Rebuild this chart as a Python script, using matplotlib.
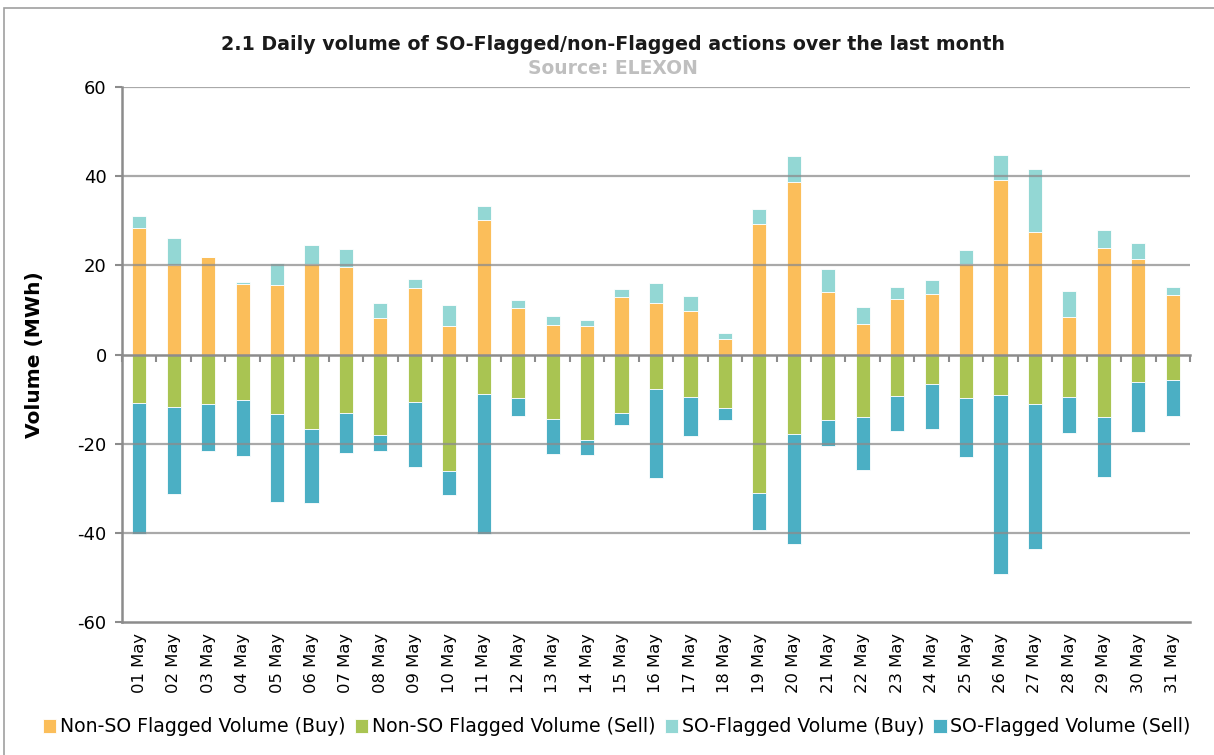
import matplotlib
matplotlib.use("Agg")
import matplotlib.pyplot as plt
from matplotlib.patches import Rectangle
import numpy as np

days = [f"{d:02d} May" for d in range(1, 32)]

# totals
buy_top = [31.0, 26.1, 21.9, 16.3, 20.6, 24.6, 23.7, 11.6, 17.0, 11.2, 33.3, 12.3, 8.7, 7.8, 14.6, 16.1,
           13.2, 4.9, 32.7, 44.6, 19.1, 10.7, 15.2, 16.8, 23.5, 44.7, 41.5, 14.3, 28.0, 25.0, 15.2]
non_so_buy = [28.4, 20.0, 21.9, 15.8, 15.6, 20.3, 19.7, 8.1, 15.0, 6.4, 30.2, 10.4, 6.7, 6.4, 12.8, 11.5,
              9.7, 3.4, 29.3, 38.8, 14.1, 6.8, 12.4, 13.5, 20.2, 39.1, 27.4, 8.5, 23.8, 21.5, 13.4]
non_so_sell = [-10.9, -11.8, -11.0, -10.2, -13.3, -16.7, -13.1, -18.0, -10.7, -26.1, -8.9, -9.8, -14.4, -19.2,
               -13.1, -7.7, -9.5, -12.0, -31.0, -17.8, -14.8, -14.0, -9.4, -6.7, -9.7, -9.0, -11.0, -9.6,
               -14.0, -6.1, -5.7]
sell_bottom = [-40.2, -31.2, -21.6, -22.8, -33.0, -33.2, -22.2, -21.6, -25.2, -31.6, -40.3, -13.7, -22.3, -22.6,
               -15.9, -27.6, -18.3, -14.8, -39.4, -42.4, -20.6, -25.8, -17.2, -16.6, -23.0, -49.3, -43.6,
               -17.6, -27.4, -17.4, -13.9]

so_buy = np.array(buy_top) - np.array(non_so_buy)
so_sell = np.array(sell_bottom) - np.array(non_so_sell)

c_nbuy = "#FBBE5A"
c_nsell = "#A9C452"
c_sbuy = "#93D7D4"
c_ssell = "#4BAFC4"
gray = "#8C8C8C"

plt.rcParams['font.family'] = ['DejaVu Sans']
plt.rcParams['axes.unicode_minus'] = False
fig = plt.figure(figsize=(12.14, 7.55), dpi=100)
ax = fig.add_axes([122/1214, 1-622/755, (1190-122)/1214, (622-87)/755])

x = np.arange(len(days))
w = 0.41
ek = dict(edgecolor="white", linewidth=0.6, zorder=2)
ax.bar(x, non_so_buy, w, color=c_nbuy, label="Non-SO Flagged Volume (Buy)", **ek)
ax.bar(x, non_so_sell, w, color=c_nsell, label="Non-SO Flagged Volume (Sell)", **ek)
ax.bar(x, so_buy, w, bottom=non_so_buy, color=c_sbuy, label="SO-Flagged Volume (Buy)", **ek)
ax.bar(x, so_sell, w, bottom=non_so_sell, color=c_ssell, label="SO-Flagged Volume (Sell)", **ek)

ax.set_xlim(-0.5, len(days) - 0.5)
ax.set_ylim(-60, 60)
ax.set_yticks([-60, -40, -20, 0, 20, 40, 60])
for yv in [-40, -20, 20, 40, 60]:
    ax.axhline(yv, color=gray, lw=1.6, alpha=0.75, zorder=3)

for s in ["top", "right"]:
    ax.spines[s].set_visible(False)
ax.spines["left"].set_color(gray)
ax.spines["left"].set_linewidth(1.8)
ax.spines["bottom"].set_position(("data", 0))
ax.spines["bottom"].set_color(gray)
ax.spines["bottom"].set_linewidth(1.8)
ax.spines["bottom"].set_zorder(4)
ax.set_xticks(np.arange(len(days) + 1) - 0.5)
ax.tick_params(axis="x", length=5, width=1.5, color=gray, labelbottom=False, direction="out")
ax.tick_params(axis="y", length=5, width=1.5, color=gray, labelsize=13, pad=6)

sec = ax.secondary_xaxis(0)
sec.set_xticks(x)
sec.set_xticklabels(days, rotation=90, fontsize=11.8)
sec.tick_params(length=0, pad=8)
sec.spines["bottom"].set_color(gray)
sec.spines["bottom"].set_linewidth(1.8)

ax.set_ylabel("Volume (MWh)", fontsize=14.5, fontweight="bold", labelpad=24)

fig.text(0.505, 1-45/755, "2.1 Daily volume of SO-Flagged/non-Flagged actions over the last month",
         ha="center", va="center", fontsize=13.7, fontweight="bold", color="#1a1a1a")
fig.text(0.505, 1-68/755, "Source: ELEXON", ha="center", va="center", fontsize=13.5,
         fontweight="bold", color="#BFBFBF")

fig.legend(loc="center", bbox_to_anchor=(0.508, 1-727/755), ncol=4, frameon=False, fontsize=13.6,
           handlelength=0.7, handleheight=0.7, handletextpad=0.2, columnspacing=0.5)

fig.patches.append(Rectangle((4/1214, -0.1), 1.2, 1-8/755 + 0.1, transform=fig.transFigure,
                             fill=False, edgecolor="#A0A0A0", lw=1.2))

fig.savefig("out.png", dpi=100)
